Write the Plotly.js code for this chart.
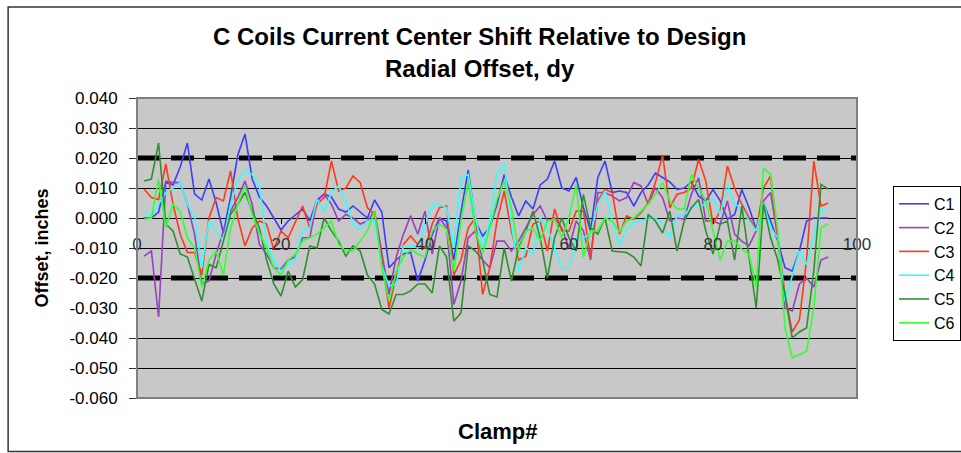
<!DOCTYPE html>
<html>
<head>
<meta charset="utf-8">
<script src="https://cdn.plot.ly/plotly-3.0.1.min.js"></script>
<style>html,body{margin:0;padding:0;background:#fff;overflow:hidden;width:961px;height:453px;}#chart{width:975px;height:453px;}</style>
</head>
<body>
<div id="chart"></div>
<script>
const clamps = Array.from({length: 96}, (_, i) => i + 1);

const C1 = [0.000,0.000,0.002,0.012,0.011,0.017,0.025,0.008,0.006,0.013,0.005,-0.005,0.007,0.021,0.028,0.013,0.007,
  0.004,0.000,-0.004,-0.001,0.001,0.003,-0.001,0.006,0.008,0.007,0.003,0.002,0.004,0.002,0.000,0.006,0.002,
  -0.0166,-0.014,-0.012,-0.0115,-0.021,-0.014,-0.0055,0.000,-0.001,-0.014,0.002,0.016,-0.001,-0.006,-0.003,0.0045,
  0.0145,0.007,0.0007,0.0057,0.003,0.011,0.013,0.019,0.010,0.009,0.0135,0.0035,-0.0043,0.0135,0.019,0.0085,0.009,
  0.0085,0.004,0.0085,0.011,0.015,0.0135,0.012,0.0095,0.010,0.012,0.0073,0.0057,0.0095,0.0057,-0.0004,0.0012,0.0095,
  0.0035,-0.0038,0.005,-0.001,-0.0077,-0.0166,-0.0177,-0.011,-0.001,0.000,0.000,0.000];

const C2 = [-0.0127,-0.011,-0.033,0.0123,0.0118,0.0118,0.0046,-0.0054,-0.022,-0.021,-0.012,-0.0043,0.0023,0.0068,0.0123,0.0046,-0.0088,
  -0.012,-0.0166,-0.017,-0.014,-0.013,-0.0066,-0.0066,0.0057,0.0079,0.0046,-0.001,0.0012,0.000,-0.002,-0.001,0.0023,-0.012,
  -0.0255,-0.013,-0.0054,0.0007,-0.0054,0.0023,-0.012,0.000,-0.0033,-0.0288,-0.021,-0.0066,-0.0043,-0.014,-0.0166,-0.0077,
  -0.0077,-0.011,-0.0077,-0.0033,0.0012,0.004,-0.001,0.000,-0.0033,-0.010,-0.001,-0.0043,-0.014,0.0085,0.0085,0.0073,0.0057,
  0.0068,0.0118,0.0107,0.0046,0.010,0.0068,-0.001,0.000,-0.0004,0.0079,0.0134,-0.001,-0.001,-0.002,0.0057,-0.0054,-0.0077,
  -0.0093,-0.0043,0.0057,0.0085,-0.0066,-0.030,-0.031,-0.022,-0.020,-0.023,-0.014,-0.013];

const C3 = [0.0096,0.0068,0.0062,0.018,0.0046,-0.0054,-0.0115,-0.0115,-0.019,0.000,0.0068,0.0057,0.0157,0.000,-0.0093,-0.0033,-0.001,
  -0.002,-0.0105,-0.0043,-0.0066,-0.001,0.004,-0.0033,0.0046,0.0068,0.019,0.009,0.010,0.014,0.0118,0.0034,0.0012,-0.014,
  -0.030,-0.019,-0.0088,-0.006,-0.0088,-0.010,-0.002,0.0034,0.004,-0.019,-0.014,-0.0033,0.000,-0.0255,-0.0166,-0.001,
  0.009,-0.0043,-0.014,-0.0127,-0.002,-0.001,-0.011,0.003,-0.0043,-0.0043,0.0023,0.0023,-0.013,0.0057,0.0096,0.0085,-0.0054,
  0.0007,-0.0004,0.0018,0.005,0.0118,0.021,0.0034,0.0079,0.0085,0.010,0.0196,0.0123,-0.002,0.0023,0.0173,0.010,0.0046,
  0.000,-0.0043,0.010,0.014,-0.0066,-0.0255,-0.038,-0.034,-0.014,0.019,0.004,0.005];

const C4 = [0.0023,0.0007,0.0046,0.0085,0.010,0.0118,0.0046,0.000,-0.0166,-0.001,-0.0043,-0.0077,0.0046,0.0123,0.016,0.0145,0.011,
  -0.0088,-0.014,-0.018,-0.0155,-0.014,-0.0038,-0.0033,0.0062,0.0023,0.0085,0.0107,0.0057,-0.002,-0.0038,-0.001,-0.001,-0.016,
  -0.0227,-0.022,-0.0093,-0.0093,-0.010,-0.002,0.0046,0.0046,0.0034,-0.010,0.0134,0.0145,0.000,-0.010,-0.001,0.015,
  0.018,-0.002,-0.0177,-0.010,-0.012,0.000,-0.0033,-0.010,-0.0166,-0.0166,-0.0066,-0.0066,-0.0054,0.0046,0.009,-0.001,-0.009,
  -0.0038,-0.0016,-0.001,0.000,0.000,-0.002,-0.0066,0.0007,0.0012,0.0034,0.004,0.0046,0.0068,0.0012,0.0112,0.0046,0.0032,
  -0.001,-0.0043,0.005,-0.0033,-0.0066,-0.0277,-0.019,-0.011,-0.0155,-0.0066,0.003,0.003];

const C5 = [0.0123,0.013,0.025,-0.002,-0.0043,-0.012,-0.013,-0.020,-0.0277,-0.0155,-0.0166,-0.0077,0.0012,0.0046,0.0085,0.0023,-0.0033,
  -0.014,-0.022,-0.026,-0.0177,-0.023,-0.0205,-0.0093,-0.010,0.000,-0.0043,-0.0077,-0.0127,-0.0093,-0.011,-0.019,-0.022,-0.0305,
  -0.032,-0.0255,-0.0255,-0.0243,-0.022,-0.022,-0.025,-0.0093,-0.013,-0.0344,-0.0316,-0.0093,-0.011,-0.014,-0.0255,-0.0263,
  -0.010,-0.021,-0.010,-0.0043,0.0023,-0.0066,-0.020,-0.0066,0.000,-0.0066,-0.011,0.0079,-0.0033,-0.0054,0.000,-0.011,-0.0113,
  -0.0115,-0.013,-0.016,0.0012,-0.001,-0.005,0.0023,-0.011,-0.001,0.0034,0.0062,-0.0043,-0.012,-0.002,-0.001,-0.014,0.004,
  -0.013,-0.030,0.0046,-0.0066,-0.014,-0.0255,-0.040,-0.038,-0.0366,-0.0177,0.0112,0.0096];

const C6 = [-0.0004,0.000,0.013,-0.0033,0.0046,0.0023,-0.0066,-0.010,-0.023,-0.014,-0.011,-0.019,-0.0033,0.0046,0.0107,0.0012,-0.005,
  -0.010,-0.0166,-0.019,-0.014,-0.012,-0.0077,-0.0066,-0.0054,-0.0033,-0.001,-0.0088,-0.011,-0.011,-0.0077,-0.0043,0.0023,-0.0165,
  -0.0277,-0.0177,-0.013,-0.0105,-0.012,-0.013,-0.0043,-0.002,-0.0038,-0.0177,-0.001,0.0123,-0.0043,-0.012,-0.0033,0.0062,
  0.0123,0.0034,-0.011,-0.0043,-0.0033,-0.0077,-0.001,-0.0004,-0.0066,0.000,0.0112,-0.013,-0.0043,-0.0043,0.000,-0.001,-0.0046,
  -0.001,0.000,0.0023,0.0046,0.0079,0.0118,0.0057,0.003,0.003,0.0145,0.010,0.0057,-0.0043,-0.014,-0.0077,-0.0077,-0.0105,
  -0.012,-0.023,0.0167,0.0145,-0.0043,-0.0366,-0.0466,-0.0455,-0.0444,-0.030,-0.0033,-0.002];

const seriesNames = ["C1", "C2", "C3", "C4", "C5", "C6"];
const seriesData = [C1, C2, C3, C4, C5, C6];
const seriesColors = ["#3d3dff", "#9b3fc0", "#ff3a1a", "#33ffff", "#2f8f2f", "#33ff33"];

const limitX = [0, 100];
const limitValues = [0.020, -0.020];

const yTickVals = [0.04, 0.03, 0.02, 0.01, 0, -0.01, -0.02, -0.03, -0.04, -0.05, -0.06];
const yTickText = ["0.040", "0.030", "0.020", "0.010", "0.000", "-0.010", "-0.020", "-0.030", "-0.040", "-0.050", "-0.060"];
const xTickVals = [0, 20, 40, 60, 80, 100];

const traces = [];
limitValues.forEach(v => {
  traces.push({
    x: limitX, y: [v, v], mode: "lines", showlegend: false, hoverinfo: "skip",
    line: {color: "#000000", width: 5, dash: "23px,11px"}
  });
});
seriesNames.forEach((n, i) => {
  traces.push({
    x: clamps, y: seriesData[i], name: n, mode: "lines",
    line: {color: seriesColors[i], width: 1.6}
  });
});

const F = "Liberation Sans, Arial, sans-serif";
const layout = {
  width: 975, height: 453,
  margin: {l: 137, r: 118, t: 98, b: 55},
  paper_bgcolor: "#ffffff",
  plot_bgcolor: "#c8c8c8",
  font: {family: F, color: "#000"},
  title: {
    text: "<b>C Coils Current Center Shift Relative to Design<br>Radial Offset, dy</b>",
    font: {size: 24, family: F, color: "#000"},
    x: 0.492, xanchor: "center", y: 0.9, yanchor: "middle"
  },
  xaxis: {
    range: [0, 100], tickvals: xTickVals, ticks: "outside", ticklen: 5, tickcolor: "#000",
    showgrid: false, zeroline: false, showline: false,
    anchor: "free", position: 0.6,
    tickfont: {size: 17, color: "#333"}, ticklabelstandoff: 6
  },
  yaxis: {
    range: [-0.06, 0.04], tickvals: yTickVals, ticktext: yTickText,
    showgrid: true, gridcolor: "#000000", gridwidth: 1,
    zeroline: true, zerolinecolor: "#000000", zerolinewidth: 1,
    ticks: "outside", ticklen: 7, tickcolor: "#333",
    tickfont: {size: 17, color: "#000"}, ticklabelstandoff: 8,
    title: {text: "<b>Offset, inches</b>", font: {size: 18}, standoff: 16}
  },
  legend: {
    x: 1.05, xanchor: "left", y: 0.707, yanchor: "top",
    bgcolor: "#ffffff", bordercolor: "#000", borderwidth: 1,
    font: {size: 16, color: "#000"}, tracegroupgap: 0
  },
  shapes: [
    {type: "rect", xref: "paper", yref: "paper", x0: 0, x1: 1, y0: 0, y1: 1, line: {color: "#808080", width: 2}},
    {type: "rect", xref: "paper", yref: "paper", x0: -0.179, x1: 1.3, y0: -0.178, y1: 1.303, line: {color: "#333", width: 1.5}, layer: "below"}
  ],
  annotations: [
    {text: "<b>Clamp#</b>", xref: "paper", yref: "paper", x: 0.5, y: -0.113, xanchor: "center", yanchor: "middle", showarrow: false, font: {size: 22}}
  ]
};

Plotly.newPlot("chart", traces, layout, {displayModeBar: false, staticPlot: true});
</script>
</body>
</html>
